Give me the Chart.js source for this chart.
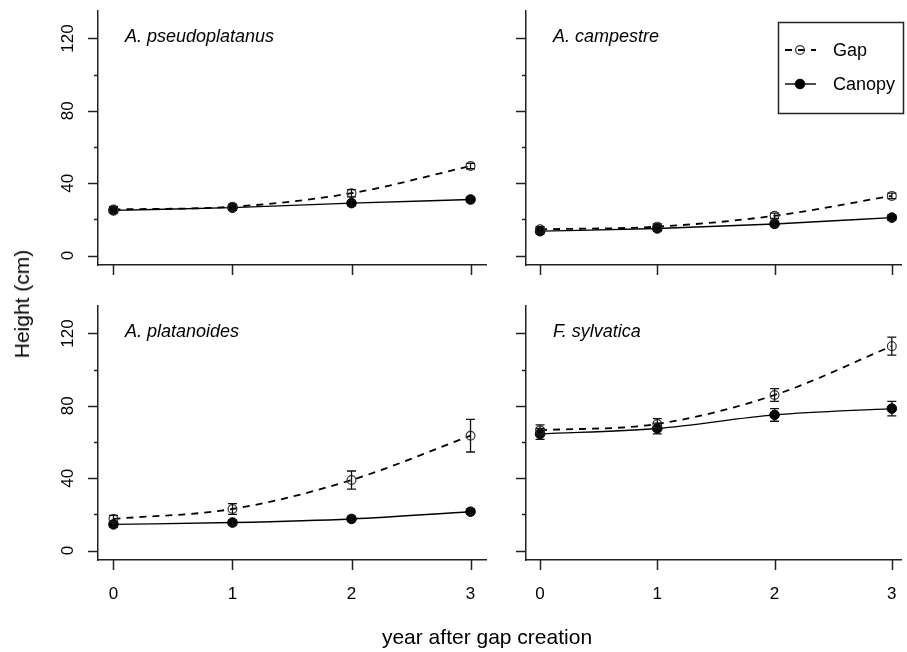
<!DOCTYPE html>
<html>
<head>
<meta charset="utf-8">
<script src="https://cdn.jsdelivr.net/npm/chart.js@4.4.1/dist/chart.umd.min.js"></script>
<style>
html,body{margin:0;padding:0;background:#fff;overflow:hidden;}
#wrap{position:relative;width:907px;height:652px;}
#wrap canvas{position:absolute;left:0;top:0;}
.lab{position:absolute;font-family:"Liberation Sans",Arial,sans-serif;color:#000;font-size:21px;white-space:nowrap;}
#ylab{left:22px;top:304px;transform:translate(-50%,-50%) rotate(-90deg);}
#xlab{left:487px;top:625px;transform:translateX(-50%);}
</style>
</head>
<body>
<div id="wrap">
  <canvas id="p0" width="907" height="652"></canvas>
  <canvas id="p1" width="907" height="652"></canvas>
  <canvas id="p2" width="907" height="652"></canvas>
  <canvas id="p3" width="907" height="652"></canvas>
  <div class="lab" id="ylab">Height (cm)</div>
  <div class="lab" id="xlab">year after gap creation</div>
</div>
<script>
// data (mean height, cm, and its error bar half-width)
const years = [0, 1, 2, 3];
const species = ['A. pseudoplatanus', 'A. campestre', 'A. platanoides', 'F. sylvatica'];

const pseudoGap      = [25.5, 27, 34.5, 49.5];
const pseudoGapSE    = [1.5, 1.5, 2, 1.5];
const pseudoCanopy   = [25, 26.5, 29, 31];
const pseudoCanopySE = [1.5, 1.5, 1.5, 1.5];

const campGap      = [14.5, 16, 22, 33];
const campGapSE    = [1.5, 1.5, 1.5, 1.5];
const campCanopy   = [13.5, 15, 17.5, 21];
const campCanopySE = [1.5, 1.5, 1.5, 1.5];

const platGap      = [17.5, 23, 39, 63.5];
const platGapSE    = [2, 3, 5, 9];
const platCanopy   = [14.5, 15.5, 17.5, 21.5];
const platCanopySE = [1.5, 1.5, 1.5, 1.5];

const sylvGap      = [66.5, 70, 86, 113];
const sylvGapSE    = [3, 3, 3.5, 5];
const sylvCanopy   = [64.5, 67.5, 75, 78.5];
const sylvCanopySE = [3, 3, 3.5, 4];

const yTickLabels = [0, 40, 80, 120];
const yMinorTicks = [20, 60, 100];
const xTickLabels = [0, 1, 2, 3];
const seriesNames = ['Gap', 'Canopy'];

const FONT = '"Liberation Sans", Arial, sans-serif';

const gapSeries = [pseudoGap, campGap, platGap, sylvGap];
const gapErrs = [pseudoGapSE, campGapSE, platGapSE, sylvGapSE];
const canSeries = [pseudoCanopy, campCanopy, platCanopy, sylvCanopy];
const canErrs = [pseudoCanopySE, campCanopySE, platCanopySE, sylvCanopySE];

// plot regions on the page: left, top, right, bottom
const areas = [
  [98, 11, 486, 265],
  [526, 11, 907, 265],
  [98, 306, 486, 560],
  [526, 306, 907, 560]
];
const xRanges = [[-0.13, 3.13], [-0.12, 3.08], [-0.13, 3.13], [-0.12, 3.08]];

const panelAxes = {
  id: 'panelAxes',
  afterDraw(chart, args, opts) {
    const {ctx, chartArea: a, scales: {x, y}} = chart;
    ctx.save();
    ctx.strokeStyle = '#222';
    ctx.lineWidth = 1.5;
    ctx.beginPath();
    yTickLabels.forEach(v => { const py = Math.round(y.getPixelForValue(v)) + 0.5; ctx.moveTo(a.left - 10, py); ctx.lineTo(a.left, py); });
    yMinorTicks.forEach(v => { const py = Math.round(y.getPixelForValue(v)) + 0.5; ctx.moveTo(a.left - 4, py); ctx.lineTo(a.left, py); });
    xTickLabels.forEach(v => { const px = Math.round(x.getPixelForValue(v)) + 0.5; ctx.moveTo(px, a.bottom); ctx.lineTo(px, a.bottom + 10); });
    ctx.stroke();

    ctx.fillStyle = '#000';
    ctx.font = '17px ' + FONT;
    ctx.textAlign = 'center';
    ctx.textBaseline = 'middle';
    if (opts.yLabels) {
      yTickLabels.forEach(v => {
        ctx.save();
        ctx.translate(a.left - 30.5, y.getPixelForValue(v));
        ctx.rotate(-Math.PI / 2);
        ctx.fillText(String(v), 0, 1);
        ctx.restore();
      });
    }
    if (opts.xLabels) {
      xTickLabels.forEach(v => ctx.fillText(String(v), x.getPixelForValue(v), a.bottom + 34));
    }
    ctx.font = 'italic 18px ' + FONT;
    ctx.textAlign = 'left';
    ctx.fillText(opts.title, a.left + 27, a.top + 26);
    ctx.restore();
  }
};

const errorBars = {
  id: 'errorBars',
  afterDatasetsDraw(chart) {
    const {ctx, scales: {x, y}} = chart;
    ctx.save();
    ctx.strokeStyle = '#111';
    ctx.lineWidth = 1.3;
    chart.data.datasets.forEach(ds => {
      if (!ds.errors) return;
      ds.data.forEach((p, i) => {
        const px = x.getPixelForValue(p.x);
        const top = y.getPixelForValue(p.y + ds.errors[i]);
        const bot = y.getPixelForValue(p.y - ds.errors[i]);
        ctx.beginPath();
        ctx.moveTo(px, top); ctx.lineTo(px, bot);
        ctx.moveTo(px - 4.5, top); ctx.lineTo(px + 4.5, top);
        ctx.moveTo(px - 4.5, bot); ctx.lineTo(px + 4.5, bot);
        ctx.stroke();
      });
    });
    ctx.restore();
  }
};

const boxLegend = {
  id: 'boxLegend',
  afterDraw(chart, args, opts) {
    if (!opts.show) return;
    const ctx = chart.ctx;
    ctx.save();
    ctx.strokeStyle = '#222';
    ctx.lineWidth = 1.5;
    ctx.strokeRect(778.5, 22.5, 125, 91);
    chart.data.datasets.forEach((ds, i) => {
      const cy = 50 + i * 34;
      ctx.beginPath();
      ctx.setLineDash(ds.borderDash || []);
      ctx.lineWidth = ds.borderWidth;
      ctx.strokeStyle = ds.borderColor;
      ctx.moveTo(785, cy); ctx.lineTo(816, cy);
      ctx.stroke();
      ctx.setLineDash([]);
      ctx.beginPath();
      ctx.arc(800, cy, ds.pointRadius, 0, Math.PI * 2);
      ctx.fillStyle = ds.pointBackgroundColor;
      ctx.fill();
      ctx.lineWidth = ds.pointBorderWidth;
      ctx.strokeStyle = ds.pointBorderColor;
      ctx.stroke();
      ctx.fillStyle = '#000';
      ctx.font = '18px ' + FONT;
      ctx.textAlign = 'left';
      ctx.textBaseline = 'middle';
      ctx.fillText(ds.label, 833, cy + 1);
    });
    ctx.restore();
  }
};

function pts(vals) { return years.map((yr, i) => ({x: yr, y: vals[i]})); }

species.forEach((name, k) => {
  const [l, t, r, b] = areas[k];
  new Chart(document.getElementById('p' + k), {
    type: 'line',
    data: {
      datasets: [
        {
          label: seriesNames[0], data: pts(gapSeries[k]), errors: gapErrs[k],
          borderColor: '#000', borderWidth: 1.8, borderDash: [7, 6],
          cubicInterpolationMode: 'monotone',
          pointRadius: 4.4, pointBorderWidth: 1.2, pointBorderColor: '#333',
          pointBackgroundColor: 'rgba(255,255,255,0)'
        },
        {
          label: seriesNames[1], data: pts(canSeries[k]), errors: canErrs[k],
          borderColor: '#000', borderWidth: 1.4,
          cubicInterpolationMode: 'monotone',
          pointRadius: 4.8, pointBorderWidth: 1, pointBorderColor: '#000',
          pointBackgroundColor: '#000'
        }
      ]
    },
    options: {
      responsive: false,
      animation: false,
      devicePixelRatio: 1,
      layout: {padding: {left: l, top: t, right: 907 - r, bottom: 652 - b}},
      plugins: {
        legend: {display: false},
        tooltip: {enabled: false},
        panelAxes: {title: name, yLabels: k % 2 === 0, xLabels: k >= 2},
        boxLegend: {show: k === 1}
      },
      scales: {
        x: {
          type: 'linear', min: xRanges[k][0], max: xRanges[k][1],
          ticks: {display: false},
          grid: {display: true, drawOnChartArea: false, drawTicks: false},
          border: {display: true, color: '#222', width: 1.5}
        },
        y: {
          min: -5.2, max: 135.2,
          ticks: {display: false},
          grid: {display: true, drawOnChartArea: false, drawTicks: false},
          border: {display: true, color: '#222', width: 1.5}
        }
      }
    },
    plugins: [panelAxes, errorBars, boxLegend]
  });
});
</script>
</body>
</html>
